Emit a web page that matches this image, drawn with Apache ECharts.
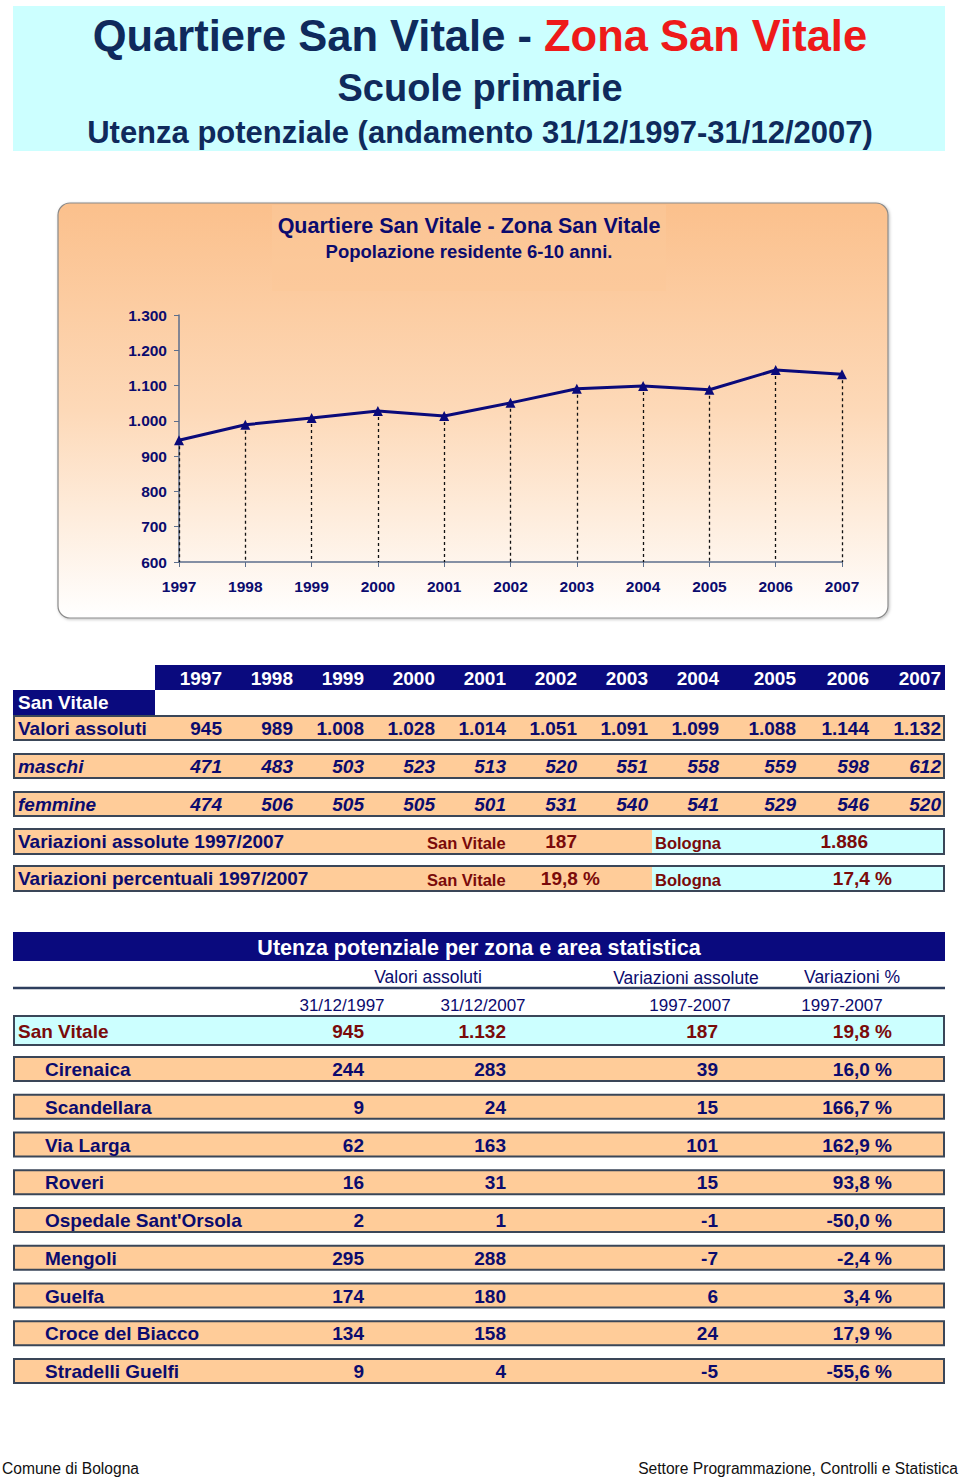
<!DOCTYPE html>
<html>
<head>
<meta charset="utf-8">
<script src="https://cdn.jsdelivr.net/npm/echarts@6/dist/echarts.min.js"></script>
<style>
html,body{margin:0;padding:0;background:#fff;}
#main{width:960px;height:1478px;}
</style>
</head>
<body>
<div id="main"></div>
<script>
// ---------- data ----------
const years = ['1997','1998','1999','2000','2001','2002','2003','2004','2005','2006','2007'];
const totals = [945, 989, 1008, 1028, 1014, 1051, 1091, 1099, 1088, 1144, 1132];
const males = [471, 483, 503, 523, 513, 520, 551, 558, 559, 598, 612];
const females = [474, 506, 505, 505, 501, 531, 540, 541, 529, 546, 520];
const yTicks = {min: 600, max: 1300, interval: 100};
const varAbsSV = 187, varAbsBO = 1886;
const varPctSV = 19.8, varPctBO = 17.4;

const zones = ['Cirenaica','Scandellara','Via Larga','Roveri',"Ospedale Sant'Orsola",'Mengoli','Guelfa','Croce del Biacco','Stradelli Guelfi'];
const zone1997 = [244, 9, 62, 16, 2, 295, 174, 134, 9];
const zone2007 = [283, 24, 163, 31, 1, 288, 180, 158, 4];
const zoneVarAbs = [39, 15, 101, 15, -1, -7, 6, 24, -5];
const zoneVarPct = [16.0, 166.7, 162.9, 93.8, -50.0, -2.4, 3.4, 17.9, -55.6];
const svTotal = {y1997: 945, y2007: 1132, varAbs: 187, varPct: 19.8};

// ---------- helpers ----------
const FF = '"Liberation Sans", Arial, Helvetica, sans-serif';
const NAVY = '#0B0B6E', BAND = '#0A0A7E', ORANGE = '#FFCC99', CYAN = '#CCFFFF', DRED = '#7A0A0A', BORDER = '#3A4658';
function fmtInt(v){ const s = Math.abs(v).toString().replace(/\B(?=(\d{3})+(?!\d))/g,'.'); return (v<0?'-':'')+s; }
function fmtPct(v){ return v.toFixed(1).replace('.',',') + ' %'; }
function txt(x,y,text,font,fill,align){ return {type:'text', x:x, y:y, z:5, style:{text:text, font:font, fill:fill, textAlign:align||'left', textVerticalAlign:'middle'}}; }
function rect(x,y,w,h,fill,stroke,lw,r){ return {type:'rect', z:1, shape:{x:x,y:y,width:w,height:h,r:r||0}, style:{fill:fill, stroke:stroke||null, lineWidth:lw||0}}; }

const g = [];
// title band
g.push(rect(13,6,932,145,CYAN));
g.push(txt(544,36,'Quartiere San Vitale - ','bold 43.5px '+FF,'#0F2A5C','right'));
g.push(txt(544,36,'Zona San Vitale','bold 43.5px '+FF,'#EE1A1A','left'));
g.push(txt(480,88,'Scuole primarie','bold 38px '+FF,'#0F2A5C','center'));
g.push(txt(480,132,'Utenza potenziale (andamento 31/12/1997-31/12/2007)','bold 31px '+FF,'#0F2A5C','center'));

// chart panel
g.push({type:'rect', z:0, shape:{x:58,y:203,width:830,height:415,r:12},
  style:{fill:{type:'linear',x:0,y:0,x2:0,y2:1,colorStops:[{offset:0,color:'#FBC08C'},{offset:0.5,color:'#FDD9B8'},{offset:1,color:'#FFFFFF'}]},
  stroke:'#8A8A8A', lineWidth:1.2, shadowColor:'rgba(0,0,0,0.25)', shadowBlur:3, shadowOffsetX:1, shadowOffsetY:1}});
g.push({type:'rect', z:0, shape:{x:272,y:205,width:394,height:86}, style:{fill:'#FCC89A', opacity:0.6}});
g.push(txt(469,226,'Quartiere San Vitale - Zona San Vitale','bold 21.5px '+FF,'#0B0B6E','center'));
g.push(txt(469,251,'Popolazione residente 6-10 anni.','bold 18.5px '+FF,'#0B0B6E','center'));

// table 1
const colEnds = [222,293,364,435,506,577,648,719,796,869,941];
g.push(rect(155,665,790,25,BAND));
years.forEach((yv,i)=>g.push(txt(colEnds[i],678,yv,'bold 19px '+FF,'#FFFFFF','right')));
g.push(rect(13,690,142,25,BAND));
g.push(txt(18,702,'San Vitale','bold 19px '+FF,'#FFFFFF','left'));
const rows1 = [
  {label:'Valori assoluti', vals:totals, top:716, italic:false},
  {label:'maschi', vals:males, top:754, italic:true},
  {label:'femmine', vals:females, top:792, italic:true}
];
rows1.forEach(r=>{
  g.push(rect(14,r.top,930,24,ORANGE,BORDER,2));
  const f = (r.italic?'italic ':'')+'bold 19px '+FF;
  g.push(txt(18,r.top+12.5,r.label,f,NAVY,'left'));
  r.vals.forEach((v,i)=>g.push(txt(colEnds[i],r.top+12.5,fmtInt(v),f,NAVY,'right')));
});
const rows2 = [
  {label:'Variazioni assolute 1997/2007', top:829, sv:fmtInt(varAbsSV), svEnd:577, bo:fmtInt(varAbsBO), boEnd:868},
  {label:'Variazioni percentuali 1997/2007', top:866, sv:fmtPct(varPctSV), svEnd:600, bo:fmtPct(varPctBO), boEnd:892}
];
rows2.forEach(r=>{
  g.push(rect(14,r.top,638,25,ORANGE));
  g.push(rect(652,r.top,292,25,CYAN));
  g.push(rect(14,r.top,930,25,null,BORDER,2));
  g.push(txt(18,r.top+12.5,r.label,'bold 19px '+FF,NAVY,'left'));
  g.push(txt(427,r.top+14,'San Vitale','bold 16.5px '+FF,DRED,'left'));
  g.push(txt(r.svEnd,r.top+12.5,r.sv,'bold 19px '+FF,DRED,'right'));
  g.push(txt(655,r.top+14,'Bologna','bold 16.5px '+FF,DRED,'left'));
  g.push(txt(r.boEnd,r.top+12.5,r.bo,'bold 19px '+FF,DRED,'right'));
});

// table 2
g.push(rect(13,932,932,29,BAND));
g.push(txt(479,948,'Utenza potenziale per zona e area statistica','bold 21.5px '+FF,'#FFFFFF','center'));
g.push(txt(428,977,'Valori assoluti','17.5px '+FF,NAVY,'center'));
g.push(txt(686,978,'Variazioni assolute','17.5px '+FF,NAVY,'center'));
g.push(txt(852,977,'Variazioni %','17.5px '+FF,NAVY,'center'));
g.push({type:'line', z:2, shape:{x1:13,y1:988,x2:945,y2:988}, style:{stroke:'#2E3E5E', lineWidth:2.5}});
g.push(txt(342,1005,'31/12/1997','17px '+FF,NAVY,'center'));
g.push(txt(483,1005,'31/12/2007','17px '+FF,NAVY,'center'));
g.push(txt(690,1005,'1997-2007','17px '+FF,NAVY,'center'));
g.push(txt(842,1005,'1997-2007','17px '+FF,NAVY,'center'));
const zEnds = [364,506,718,892];
g.push(rect(14,1016,930,29,CYAN,BORDER,2));
g.push(txt(18,1031,'San Vitale','bold 19px '+FF,DRED,'left'));
[fmtInt(svTotal.y1997),fmtInt(svTotal.y2007),fmtInt(svTotal.varAbs),fmtPct(svTotal.varPct)].forEach((s,i)=>g.push(txt(zEnds[i],1031,s,'bold 19px '+FF,DRED,'right')));
zones.forEach((z,i)=>{
  const top = 1057 + i*37.75;
  g.push(rect(14,top,930,24,ORANGE,BORDER,2));
  g.push(txt(45,top+12.5,z,'bold 19px '+FF,NAVY,'left'));
  [fmtInt(zone1997[i]),fmtInt(zone2007[i]),fmtInt(zoneVarAbs[i]),fmtPct(zoneVarPct[i])].forEach((s,k)=>g.push(txt(zEnds[k],top+12.5,s,'bold 19px '+FF,NAVY,'right')));
});

// footer
g.push(txt(2,1468,'Comune di Bologna','15.6px '+FF,'#111111','left'));
g.push(txt(958,1468,'Settore Programmazione, Controlli e Statistica','15.6px '+FF,'#111111','right'));

// drop lines from data
const dropLines = totals.map((v,i)=>[{coord:[i,v]},{coord:[i,yTicks.min]}]);

const chart = echarts.init(document.getElementById('main'), null, {renderer:'svg', width:960, height:1478});
chart.setOption({
  animation:false,
  backgroundColor:'#FFFFFF',
  graphic:{elements:g},
  grid:{left:179, right:118, top:315, bottom:916, containLabel:false},
  xAxis:{type:'category', data:years, boundaryGap:false,
    axisLine:{lineStyle:{color:'#5C6E8C', width:1.5}},
    axisTick:{show:true, length:5, lineStyle:{color:'#5C6E8C'}},
    axisLabel:{color:NAVY, fontWeight:'bold', fontSize:15.5, fontFamily:FF, margin:16}},
  yAxis:{type:'value', min:yTicks.min, max:yTicks.max, interval:yTicks.interval,
    axisLine:{show:true, lineStyle:{color:'#5C6E8C', width:1.5}},
    axisTick:{show:true, length:5, lineStyle:{color:'#5C6E8C'}},
    splitLine:{show:false},
    axisLabel:{color:NAVY, fontWeight:'bold', fontSize:15.5, fontFamily:FF, margin:12, formatter:v=>fmtInt(v)}},
  series:[{
    type:'line', data:totals, z:5,
    symbol:'triangle', symbolSize:10,
    lineStyle:{color:'#0A0A7A', width:3},
    itemStyle:{color:'#0A0A7A'},
    markLine:{silent:true, symbol:['none','none'], label:{show:false},
      lineStyle:{color:'#111111', type:[3,3], width:1.3}, data:dropLines}
  }]
});
</script>
</body>
</html>
